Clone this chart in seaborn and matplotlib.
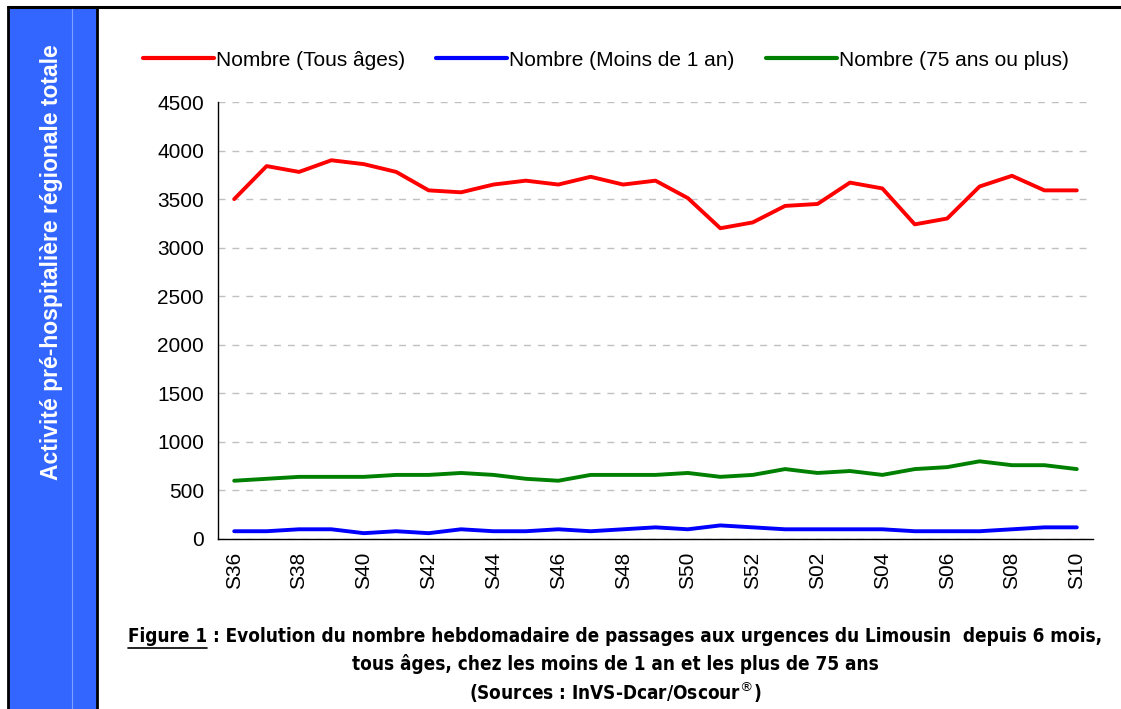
import matplotlib
matplotlib.use("Agg")
import matplotlib.pyplot as plt
from matplotlib.patches import Rectangle
from matplotlib.lines import Line2D
import seaborn as sns
import pandas as pd

# semaines (S36 -> S10)
semaines = ["S36", "S37", "S38", "S39", "S40", "S41", "S42", "S43", "S44", "S45",
            "S46", "S47", "S48", "S49", "S50", "S51", "S52", "S01", "S02", "S03",
            "S04", "S05", "S06", "S07", "S08", "S09", "S10"]
tous_ages = [3500, 3840, 3780, 3900, 3860, 3780, 3590, 3570, 3650, 3690,
             3650, 3730, 3650, 3690, 3510, 3200, 3260, 3430, 3450, 3670,
             3610, 3240, 3300, 3630, 3740, 3590, 3590]
moins_1an = [80, 80, 100, 100, 60, 80, 60, 100, 80, 80,
             100, 80, 100, 120, 100, 140, 120, 100, 100, 100,
             100, 80, 80, 80, 100, 120, 120]
plus_75 = [600, 620, 640, 640, 640, 660, 660, 680, 660, 620,
           600, 660, 660, 660, 680, 640, 660, 720, 680, 700,
           660, 720, 740, 800, 760, 760, 720]
series = ["Nombre (Tous âges)", "Nombre (Moins de 1 an)", "Nombre (75 ans ou plus)"]
couleurs = ["#FF0000", "#0000FF", "#008000"]
y_ticks = [0, 500, 1000, 1500, 2000, 2500, 3000, 3500, 4000, 4500]

df = pd.concat([
    pd.DataFrame({"semaine": semaines, "valeur": vals, "serie": nom})
    for nom, vals in zip(series, [tous_ages, moins_1an, plus_75])
])
df["pos"] = df.groupby("serie").cumcount()

sns.set_style("white")
plt.rcParams["font.family"] = ["Liberation Sans", "DejaVu Sans"]
plt.rcParams["text.color"] = "black"
plt.rcParams["xtick.color"] = "black"
plt.rcParams["ytick.color"] = "black"

fig = plt.figure(figsize=(11.21, 7.09), dpi=100)
ax = fig.add_axes([218 / 1121, 1 - 539 / 709, 875 / 1121, 437 / 709])

sns.lineplot(data=df, x="pos", y="valeur", hue="serie", hue_order=series,
             palette=couleurs, linewidth=2.8, sort=False, ax=ax, legend=False)

ax.set_xlim(-0.5, len(semaines) - 0.5)
ax.set_ylim(0, 4500)
ax.set_yticks(y_ticks)
ax.set_yticklabels([str(v) for v in y_ticks], fontsize=15)
ax.set_xticks(range(0, len(semaines), 2))
ax.set_xticklabels(semaines[::2], rotation=90, fontsize=15)
ax.set_xticks([i - 0.5 for i in range(len(semaines) + 1)], minor=True)
ax.tick_params(axis="x", which="major", length=0, pad=9)
ax.tick_params(axis="x", which="minor", length=7, width=1, direction="out")
ax.tick_params(axis="y", length=6, width=1, direction="out", pad=4)
ax.set_xlabel("")
ax.set_ylabel("")
ax.yaxis.grid(True, color="#C0C0C0", linestyle=(0, (5, 5)), linewidth=1)
ax.set_axisbelow(True)
for s in ["top", "right"]:
    ax.spines[s].set_visible(False)
for s in ["left", "bottom"]:
    ax.spines[s].set_color("black")
    ax.spines[s].set_linewidth(1)

# légende en haut
handles = [Line2D([], [], color=c, linewidth=3) for c in couleurs]
fig.legend(handles, series, loc="center", bbox_to_anchor=(606 / 1121, 1 - 60 / 709),
           ncol=3, frameon=False, fontsize=15, handlelength=3.4, handletextpad=0.1,
           columnspacing=1.5)

# panneau bleu à gauche + cadre
fig.add_artist(Rectangle((8 / 1121, -0.01), 89 / 1121, 1.01 - 7 / 709, transform=fig.transFigure,
                         facecolor="#3366FF", edgecolor="black", linewidth=2))
fig.add_artist(Line2D([72 / 1121, 72 / 1121], [0, 1 - 8 / 709], transform=fig.transFigure,
                      color="#7FA0FF", linewidth=0.8))
fig.add_artist(Line2D([8 / 1121, 1], [1 - 7 / 709, 1 - 7 / 709], transform=fig.transFigure,
                      color="black", linewidth=2.2))
fig.text(52 / 1121, 1 - 262 / 709, "Activité pré-hospitalière régionale totale",
         rotation=90, color="white", fontsize=16.5, fontweight="bold",
         ha="center", va="center")

# légende de la figure (police condensée, ajustée à la largeur)
cap_kw = dict(fontweight="bold", family="DejaVu Sans", fontstretch="condensed")
ligne1 = "Figure 1 : Evolution du nombre hebdomadaire de passages aux urgences du Limousin  depuis 6 mois,"
renderer = fig.canvas.get_renderer()
t1 = fig.text(615 / 1121, 1 - 637 / 709, ligne1, ha="center", va="center", fontsize=15, **cap_kw)
w = t1.get_window_extent(renderer).width
taille = 15 * 976 / w
t1.set_fontsize(taille)
bb = t1.get_window_extent(renderer)
t0 = fig.text(bb.x0 / 1121, 1 - 637 / 709, "Figure 1", ha="left", va="center",
              fontsize=taille, alpha=0, **cap_kw)
bb0 = t0.get_window_extent(renderer)
fig.add_artist(Line2D([bb0.x0 / 1121, bb0.x1 / 1121], [(bb0.y0 - 1) / 709, (bb0.y0 - 1) / 709],
                      transform=fig.transFigure, color="black", linewidth=1.2))
fig.text(615 / 1121, 1 - 664 / 709, "tous âges, chez les moins de 1 an et les plus de 75 ans",
         ha="center", va="center", fontsize=taille, **cap_kw)
fig.text(615 / 1121, 1 - 692 / 709, "(Sources : InVS-Dcar/Oscour$^{®}$)",
         ha="center", va="center", fontsize=taille, **cap_kw)

fig.savefig("out.png", dpi=100, facecolor="white")
